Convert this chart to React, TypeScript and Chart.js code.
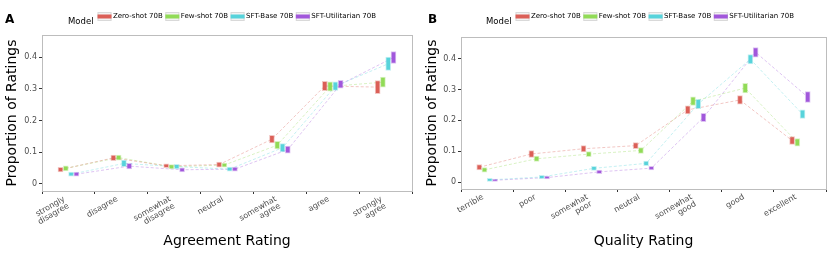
import React, { useEffect, useRef } from "react";
import { Chart, registerables } from "chart.js";

Chart.register(...registerables);

// ---------- data ----------
const seriesNames = ["Zero-shot 70B", "Few-shot 70B", "SFT-Base 70B", "SFT-Utilitarian 70B"];
const seriesColors = ["#db5f57", "#91db57", "#57d3db", "#a157db"];
const yTicks = [0, 0.1, 0.2, 0.3, 0.4];

const agreementCategories = [
  ["strongly", "disagree"],
  "disagree",
  ["somewhat", "disagree"],
  "neutral",
  ["somewhat", "agree"],
  "agree",
  ["strongly", "agree"],
];
// [low, high] per category
const agreeZeroShot = [[0.038, 0.052], [0.073, 0.091], [0.051, 0.063], [0.053, 0.069], [0.129, 0.153], [0.294, 0.324], [0.285, 0.326]];
const agreeFewShot = [[0.041, 0.057], [0.075, 0.091], [0.047, 0.061], [0.053, 0.066], [0.110, 0.134], [0.293, 0.322], [0.305, 0.337]];
const agreeSftBase = [[0.024, 0.037], [0.054, 0.075], [0.047, 0.062], [0.040, 0.053], [0.101, 0.127], [0.295, 0.322], [0.358, 0.400]];
const agreeSftUtil = [[0.024, 0.037], [0.047, 0.065], [0.038, 0.051], [0.040, 0.053], [0.097, 0.119], [0.302, 0.327], [0.380, 0.418]];

const qualityCategories = [
  "terrible",
  "poor",
  ["somewhat", "poor"],
  "neutral",
  ["somewhat", "good"],
  "good",
  "excellent",
];
const qualZeroShot = [[0.039, 0.057], [0.080, 0.102], [0.098, 0.118], [0.108, 0.128], [0.221, 0.247], [0.252, 0.280], [0.122, 0.147]];
const qualFewShot = [[0.032, 0.047], [0.067, 0.084], [0.082, 0.099], [0.093, 0.112], [0.248, 0.276], [0.289, 0.320], [0.116, 0.141]];
const qualSftBase = [[0.002, 0.012], [0.011, 0.022], [0.038, 0.051], [0.053, 0.068], [0.238, 0.268], [0.383, 0.413], [0.206, 0.234]];
const qualSftUtil = [[0.002, 0.010], [0.010, 0.019], [0.027, 0.039], [0.039, 0.051], [0.196, 0.223], [0.405, 0.436], [0.258, 0.293]];

const dodge = [-0.15, -0.05, 0.05, 0.15];

const FONT = "'DejaVu Sans', sans-serif";

function hexA(hex: string, a: number) {
  const r = parseInt(hex.slice(1, 3), 16);
  const g = parseInt(hex.slice(3, 5), 16);
  const b = parseInt(hex.slice(5, 7), 16);
  return `rgba(${r},${g},${b},${a})`;
}

type PanelCfg = {
  letter: string;
  categories: any[];
  series: number[][][];
  xTitle: string;
  yWidth: number;
  padRight: number;
  padTop: number;
  xHeight: number;
  yTitlePad: number;
  legendX: number;
  letterX: number;
};

function Panel({ cfg }: { cfg: PanelCfg }) {
  const ref = useRef<HTMLCanvasElement>(null);
  useEffect(() => {
    if (!ref.current) return;
    const datasets: any[] = [];
    cfg.series.forEach((ser, si) => {
      datasets.push({
        type: "line",
        data: ser.map((v, i) => ({ x: i + 1 + dodge[si], y: (v[0] + v[1]) / 2 })),
        borderColor: hexA(seriesColors[si], 0.35),
        borderWidth: 1,
        borderDash: [3, 2],
        pointRadius: 0,
        tension: 0,
        order: 2,
      });
    });
    cfg.series.forEach((ser, si) => {
      datasets.push({
        type: "bar",
        data: ser.map((v, i) => ({ x: i + 1 + dodge[si], y: [v[0], v[1]] })),
        backgroundColor: seriesColors[si],
        borderColor: hexA(seriesColors[si], 0.35),
        borderWidth: 1,
        borderSkipped: false,
        barThickness: 5,
        grouped: false,
        order: 0,
      });
    });

    const framePlugin = {
      id: "frame",
      afterDraw(chart: any) {
        const { ctx, chartArea: a } = chart;
        ctx.save();
        ctx.strokeStyle = "#bdbdbd";
        ctx.lineWidth = 1;
        ctx.strokeRect(Math.round(a.left) + 0.5, Math.round(a.top) + 0.5, Math.round(a.right - a.left), Math.round(a.bottom - a.top));
        // panel letter
        ctx.fillStyle = "#000";
        ctx.font = `bold 12px ${FONT}`;
        ctx.textBaseline = "middle";
        ctx.textAlign = "left";
        ctx.fillText(cfg.letter, cfg.letterX, 20);
        // legend
        let x = cfg.legendX;
        ctx.font = `8.5px ${FONT}`;
        ctx.fillStyle = "#000";
        ctx.fillText("Model", x, 22);
        x += ctx.measureText("Model").width + 4;
        ctx.font = `7px ${FONT}`;
        seriesNames.forEach((name, si) => {
          ctx.fillStyle = "#f2f2f2";
          ctx.fillRect(x, 12, 14, 9);
          ctx.strokeStyle = "#d9d9d9";
          ctx.strokeRect(x + 0.5, 12.5, 13, 8);
          ctx.fillStyle = seriesColors[si];
          ctx.fillRect(x, 14.5, 14, 4);
          x += 15.5;
          ctx.fillStyle = "#000";
          ctx.fillText(name, x, 16.5);
          x += ctx.measureText(name).width + 2.5;
        });
        ctx.restore();
      },
    };

    const chart = new Chart(ref.current, {
      type: "bar",
      data: { datasets },
      plugins: [framePlugin],
      options: {
        animation: false,
        responsive: false,
        maintainAspectRatio: false,
        layout: { padding: { left: 0, right: cfg.padRight, top: cfg.padTop, bottom: 0 } },
        plugins: { legend: { display: false }, tooltip: { enabled: false } },
        scales: {
          x: {
            type: "linear",
            min: 0.5,
            max: 7.5,
            offset: false,
            afterBuildTicks: (s: any) => {
              s.ticks = cfg.categories.map((_, i) => ({ value: i + 1 }));
            },
            afterFit: (s: any) => {
              s.height = cfg.xHeight;
            },
            ticks: {
              autoSkip: false,
              minRotation: 30,
              maxRotation: 30,
              padding: 1,
              labelOffset: -4,
              color: "#4d4d4d",
              font: { family: FONT, size: 8, lineHeight: 1.0 },
              callback: (v: any) => cfg.categories[Math.round(v) - 1],
            },
            grid: { display: true, drawOnChartArea: false, drawTicks: true, tickLength: 3, tickColor: "#333" },
            border: { display: false },
            title: {
              display: true,
              text: cfg.xTitle,
              color: "#000",
              font: { family: FONT, size: 14 },
              padding: { top: 0, bottom: 7 },
            },
          },
          y: {
            type: "linear",
            min: -0.0225,
            max: 0.47,
            afterBuildTicks: (s: any) => {
              s.ticks = yTicks.map((v) => ({ value: v }));
            },
            afterFit: (s: any) => {
              s.width = cfg.yWidth;
            },
            ticks: {
              padding: 2,
              color: "#4d4d4d",
              font: { family: FONT, size: 8 },
              callback: (v: any) => String(v),
            },
            grid: { display: true, drawOnChartArea: false, drawTicks: true, tickLength: 3, tickColor: "#333" },
            border: { display: false },
            title: {
              display: true,
              text: "Proportion of Ratings",
              color: "#000",
              font: { family: FONT, size: 14 },
              padding: { top: cfg.yTitlePad, bottom: 0 },
            },
          },
        },
      } as any,
    });
    return () => chart.destroy();
  }, []);
  return <canvas ref={ref} width={415} height={257} style={{ width: 415, height: 257, display: "block" }} />;
}

const panelA: PanelCfg = {
  letter: "A",
  categories: agreementCategories,
  series: [agreeZeroShot, agreeFewShot, agreeSftBase, agreeSftUtil],
  xTitle: "Agreement Rating",
  yWidth: 42,
  padRight: 3,
  padTop: 35,
  xHeight: 66,
  yTitlePad: 4,
  legendX: 68,
  letterX: 5,
};

const panelB: PanelCfg = {
  letter: "B",
  categories: qualityCategories,
  series: [qualZeroShot, qualFewShot, qualSftBase, qualSftUtil],
  xTitle: "Quality Rating",
  yWidth: 46,
  padRight: 4,
  padTop: 37,
  xHeight: 68,
  yTitlePad: 9,
  legendX: 71,
  letterX: 13,
};

export default function App() {
  return (
    <div style={{ position: "fixed", left: 0, top: 0, width: 830, height: 257, display: "flex", background: "#fff" }}>
      <Panel cfg={panelA} />
      <Panel cfg={panelB} />
    </div>
  );
}
